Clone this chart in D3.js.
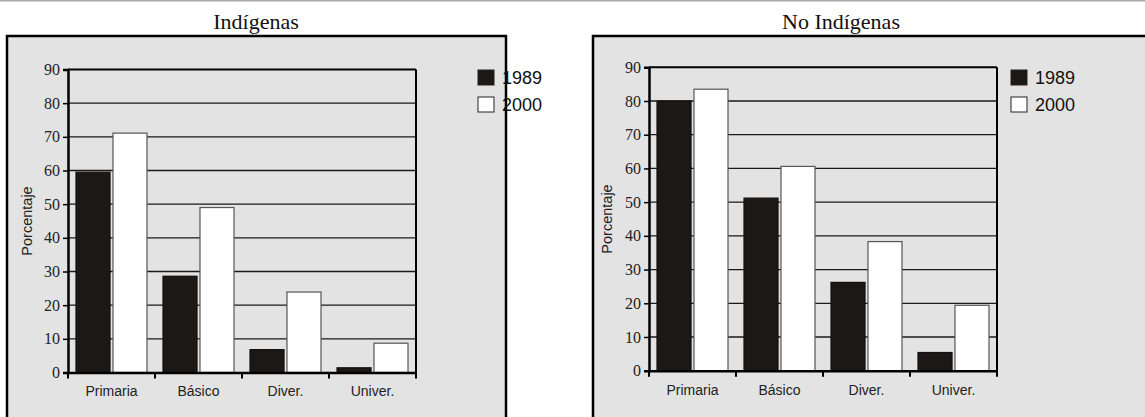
<!DOCTYPE html>
<html><head><meta charset="utf-8">
<script src="https://cdn.jsdelivr.net/npm/d3@7/dist/d3.min.js"></script>
<style>body{margin:0;background:#fff;}svg{display:block;}</style>
</head><body>
<svg id="c" width="1145" height="417"></svg>
<script>
const categories = ["Primaria", "Básico", "Diver.", "Univer."];
const seriesNames = ["1989", "2000"];
const indigenas1989 = [59.5, 28.6, 6.8, 1.4];
const indigenas2000 = [71.1, 49.0, 23.9, 8.7];
const noIndigenas1989 = [80.0, 51.2, 26.2, 5.4];
const noIndigenas2000 = [83.5, 60.6, 38.3, 19.4];
const yTicks = [0, 10, 20, 30, 40, 50, 60, 70, 80, 90];
const titles = ["Indígenas", "No Indígenas"];

const SERIF = "'Liberation Serif', 'DejaVu Serif', serif";
const SANS = "'Liberation Sans', Arial, sans-serif";

const svg = d3.select("#c");
svg.append("line").attr("x1", 0).attr("x2", 1145).attr("y1", 0.5).attr("y2", 0.5)
  .attr("stroke", "#aaa").attr("stroke-width", 2);

const panels = [
  {title: titles[0], s1: indigenas1989, s2: indigenas2000,
   box: [7, 36, 499, 400], titleX: 256, plot: {l: 68, r: 416, t: 69.5, b: 372.5}, legX: 478, ylabX: 27},
  {title: titles[1], s1: noIndigenas1989, s2: noIndigenas2000,
   box: [593, 36, 600, 400], titleX: 841, plot: {l: 649, r: 997, t: 67.3, b: 370.7}, legX: 1011, ylabX: 607}
];

const fills = ["#1b1815", "#ffffff"];
const strokes = ["#111", "#555"];

panels.forEach(p => {
  const g = svg.append("g");
  g.append("rect").attr("x", p.box[0]).attr("y", p.box[1]).attr("width", p.box[2]).attr("height", p.box[3])
    .attr("fill", "#e3e3e3").attr("stroke", "#000").attr("stroke-width", 2.5);
  g.append("text").attr("x", p.titleX).attr("y", 29).attr("text-anchor", "middle")
    .style("font-family", SERIF).style("font-size", "22px").attr("fill", "#111").text(p.title);

  const x = d3.scaleBand().domain(categories).range([p.plot.l, p.plot.r]).paddingInner(0).paddingOuter(0);
  const x1 = d3.scaleBand().domain(seriesNames).range([8, x.bandwidth() - 8]).paddingInner(0.08);
  const y = d3.scaleLinear().domain([0, 90]).range([p.plot.b, p.plot.t]);

  // gridlines
  g.append("g").selectAll("line").data(yTicks.filter(d => d > 0 && d < 90)).join("line")
    .attr("x1", p.plot.l).attr("x2", p.plot.r).attr("y1", d => y(d)).attr("y2", d => y(d))
    .attr("stroke", "#1a1a1a").attr("stroke-width", 1.3);

  // bars
  const data = categories.map((c, i) => ({c, vals: [p.s1[i], p.s2[i]]}));
  const cg = g.append("g").selectAll("g").data(data).join("g").attr("transform", d => `translate(${x(d.c)},0)`);
  cg.selectAll("rect").data(d => d.vals.map((v, j) => ({v, j, s: seriesNames[j]}))).join("rect")
    .attr("x", d => x1(d.s)).attr("width", x1.bandwidth())
    .attr("y", d => y(d.v)).attr("height", d => y(0) - y(d.v))
    .attr("fill", d => fills[d.j]).attr("stroke", d => strokes[d.j]).attr("stroke-width", 1.2);

  // frame top and right
  g.append("line").attr("x1", p.plot.l).attr("x2", p.plot.r).attr("y1", p.plot.t).attr("y2", p.plot.t)
    .attr("stroke", "#000").attr("stroke-width", 2);
  g.append("line").attr("x1", p.plot.r).attr("x2", p.plot.r).attr("y1", p.plot.t).attr("y2", p.plot.b)
    .attr("stroke", "#000").attr("stroke-width", 2);

  // y axis
  const ya = g.append("g").attr("transform", `translate(${p.plot.l},0)`)
    .call(d3.axisLeft(y).tickValues(yTicks).tickSize(5).tickPadding(3).tickFormat(d3.format("d")));
  ya.attr("font-family", null).attr("font-size", null);
  ya.select(".domain").attr("stroke", "#000").attr("stroke-width", 2.5);
  ya.selectAll(".tick line").attr("stroke", "#000").attr("stroke-width", 1.5);
  ya.selectAll("text").style("font-family", SERIF).style("font-size", "16px").attr("fill", "#222");

  // x axis
  const xa = g.append("g").attr("transform", `translate(0,${p.plot.b})`)
    .call(d3.axisBottom(x).tickSize(0).tickPadding(14));
  xa.attr("font-family", null).attr("font-size", null);
  xa.select(".domain").attr("stroke", "#000").attr("stroke-width", 2.5);
  xa.selectAll("text").style("font-family", SANS).style("font-size", "14px").attr("fill", "#222");
  const bounds = categories.map(c => x(c)).concat([x(categories[categories.length - 1]) + x.bandwidth()]);
  xa.append("g").selectAll("line").data(bounds).join("line")
    .attr("x1", d => d).attr("x2", d => d).attr("y1", 0).attr("y2", 6)
    .attr("stroke", "#000").attr("stroke-width", 2);

  // y label
  g.append("text").attr("transform", `translate(${p.ylabX + 5},${(p.plot.t + p.plot.b) / 2}) rotate(-90)`)
    .attr("text-anchor", "middle").style("font-family", SANS)
    .style("font-size", "14.5px").attr("fill", "#222").text("Porcentaje");

  // legend
  seriesNames.forEach((s, j) => {
    const ly = 70 + j * 27;
    g.append("rect").attr("x", p.legX).attr("y", ly).attr("width", 16).attr("height", 15)
      .attr("fill", fills[j]).attr("stroke", "#222").attr("stroke-width", 1);
    g.append("text").attr("x", p.legX + 24).attr("y", ly + 14)
      .style("font-family", SANS).style("font-size", "18px").attr("fill", "#111").text(s);
  });
});
</script>
</body></html>
